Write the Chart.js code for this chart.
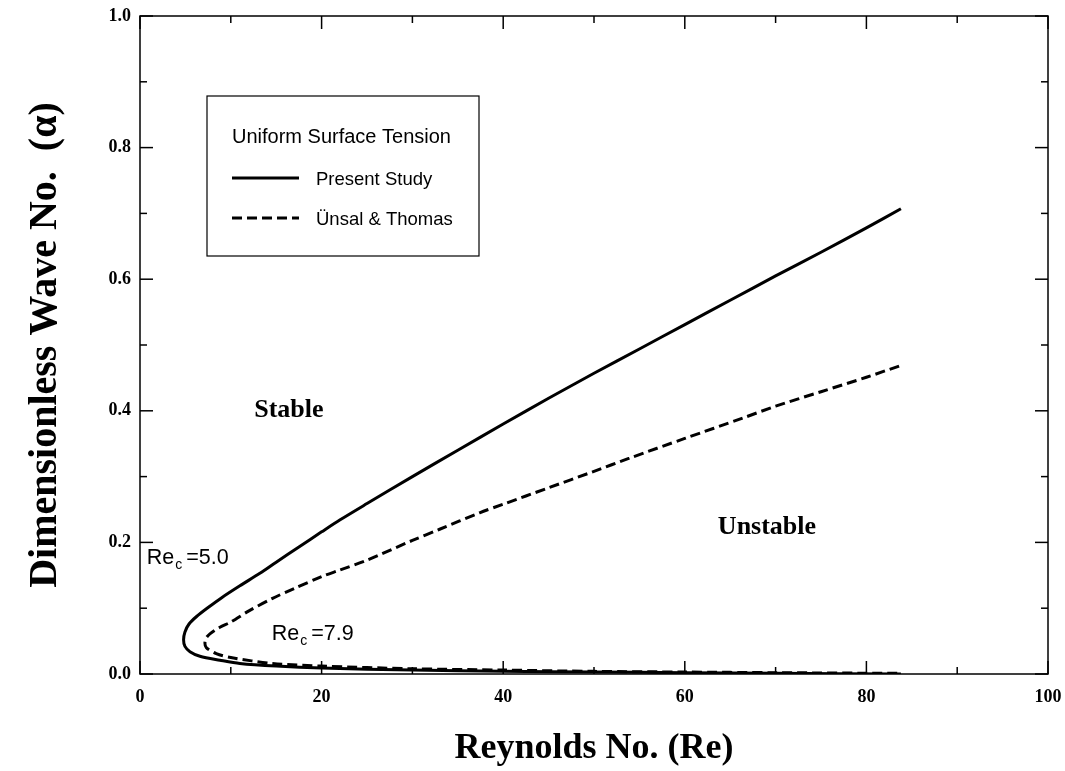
<!DOCTYPE html>
<html><head><meta charset="utf-8">
<script src="https://cdn.jsdelivr.net/npm/chart.js@4/dist/chart.umd.min.js"></script>
<style>html,body{margin:0;padding:0;background:#fff}canvas{display:block}</style>
</head><body>
<canvas id="c" width="1065" height="771"></canvas>
<script>
// ---- data ----
const seriesNames = ['Present Study', '\u00DCnsal & Thomas'];
const legendTitle = 'Uniform Surface Tension';
const presentRe    = [83.8, 80, 75, 70, 65, 60, 55, 50, 45, 40, 35, 30, 25, 22, 20, 17.5, 15, 13.2, 11, 9, 7.5, 6.2, 5.4, 4.95, 4.8, 4.95, 5.5, 6.6, 8.8, 11, 15, 20, 30, 40, 50, 60, 70, 83.8];
const presentAlpha = [0.707, 0.678, 0.641, 0.605, 0.568, 0.531, 0.494, 0.457, 0.419, 0.380, 0.340, 0.300, 0.259, 0.234, 0.216, 0.193, 0.170, 0.153, 0.134, 0.116, 0.101, 0.087, 0.076, 0.064, 0.052, 0.042, 0.034, 0.027, 0.021, 0.016, 0.012, 0.009, 0.006, 0.004, 0.003, 0.002, 0.001, 0.000];
const unsalRe    = [83.6, 80, 75, 70, 66.4, 60, 53.9, 50, 45, 40, 37.4, 33, 30, 25, 22, 20, 17, 14.6, 12, 10, 8.8, 7.7, 7.3, 7.15, 7.3, 8.4, 10, 14.6, 20, 30, 40, 50, 60, 70, 83.6];
const unsalAlpha = [0.468, 0.451, 0.429, 0.407, 0.389, 0.358, 0.328, 0.308, 0.283, 0.258, 0.245, 0.220, 0.203, 0.173, 0.158, 0.148, 0.130, 0.115, 0.096, 0.079, 0.071, 0.061, 0.055, 0.047, 0.040, 0.031, 0.025, 0.016, 0.012, 0.008, 0.006, 0.004, 0.003, 0.002, 0.001];
const xMajorTicks = [0, 20, 40, 60, 80, 100];
const xMinorTicks = [10, 30, 50, 70, 90];
const yMajorTicks = [0, 0.2, 0.4, 0.6, 0.8, 1.0];
const yMinorTicks = [0.1, 0.3, 0.5, 0.7, 0.9];
const xTitle = 'Reynolds No. (Re)';
const yTitle = 'Dimensionless Wave No.  (\u03B1)';
const regionLabels = [{text: 'Stable', x: 16.4, y: 0.401}, {text: 'Unstable', x: 69.05, y: 0.223}];
const criticalLabels = [{value: '5.0', x: 0.75, y: 0.167}, {value: '7.9', x: 14.5, y: 0.052}];

const SERIF = '"Liberation Serif", "Times New Roman", serif';
const SANS = '"Liberation Sans", Arial, sans-serif';

const toPts = (xs, ys) => xs.map((v, i) => ({x: v, y: ys[i]}));

const decorPlugin = {
  id: 'decor',
  afterDatasetsDraw(chart) {
    const {ctx, chartArea: a, scales: {x, y}} = chart;
    ctx.save();
    ctx.strokeStyle = '#000';
    ctx.lineWidth = 1.5;
    ctx.strokeRect(a.left, a.top, a.right - a.left, a.bottom - a.top);
    const seg = (x1, y1, x2, y2) => { ctx.beginPath(); ctx.moveTo(x1, y1); ctx.lineTo(x2, y2); ctx.stroke(); };
    xMajorTicks.forEach(v => { const p = x.getPixelForValue(v); seg(p, a.bottom, p, a.bottom - 13); seg(p, a.top, p, a.top + 13); });
    xMinorTicks.forEach(v => { const p = x.getPixelForValue(v); seg(p, a.bottom, p, a.bottom - 7); seg(p, a.top, p, a.top + 7); });
    yMajorTicks.forEach(v => { const p = y.getPixelForValue(v); seg(a.left, p, a.left + 13, p); seg(a.right, p, a.right - 13, p); });
    yMinorTicks.forEach(v => { const p = y.getPixelForValue(v); seg(a.left, p, a.left + 7, p); seg(a.right, p, a.right - 7, p); });

    // region labels
    ctx.fillStyle = '#000';
    ctx.font = 'bold 26px ' + SERIF;
    ctx.textAlign = 'center';
    ctx.textBaseline = 'middle';
    regionLabels.forEach(l => ctx.fillText(l.text, x.getPixelForValue(l.x), y.getPixelForValue(l.y)));

    // critical Reynolds labels
    ctx.textAlign = 'left';
    ctx.textBaseline = 'alphabetic';
    criticalLabels.forEach(l => {
      let px = x.getPixelForValue(l.x);
      const py = y.getPixelForValue(l.y);
      ctx.font = '21.5px ' + SANS;
      ctx.fillText('Re', px, py);
      px += ctx.measureText('Re').width;
      ctx.font = '14px ' + SANS;
      ctx.fillText('c', px + 1, py + 5);
      px += ctx.measureText('c').width + 5;
      ctx.font = '21.5px ' + SANS;
      ctx.fillText('=' + l.value, px, py);
    });

    // legend box
    const L = 207, T = 96, R = 479, B = 256;
    ctx.lineWidth = 1.2;
    ctx.strokeRect(L, T, R - L, B - T);
    ctx.font = '20px ' + SANS;
    ctx.fillText(legendTitle, 232, 143);
    ctx.font = '18.5px ' + SANS;
    const ds = chart.data.datasets;
    [178, 218].forEach((ly, i) => {
      ctx.lineWidth = ds[i].borderWidth;
      ctx.setLineDash(ds[i].borderDash || []);
      seg(232, ly, 299, ly);
      ctx.setLineDash([]);
      ctx.fillText(ds[i].label, 316, ly + 7);
    });
    ctx.restore();
  }
};

new Chart(document.getElementById('c'), {
  type: 'scatter',
  data: {
    datasets: [
      {label: seriesNames[0], data: toPts(presentRe, presentAlpha), showLine: true, borderColor: '#000', borderWidth: 3, pointRadius: 0, tension: 0.3, fill: false},
      {label: seriesNames[1], data: toPts(unsalRe, unsalAlpha), showLine: true, borderColor: '#000', borderWidth: 3, borderDash: [10, 5], pointRadius: 0, tension: 0.3, fill: false}
    ]
  },
  options: {
    responsive: false,
    animation: false,
    devicePixelRatio: 1,
    layout: {padding: {top: 16, right: 17, left: 0, bottom: 0}},
    plugins: {legend: {display: false}, tooltip: {enabled: false}},
    scales: {
      x: {
        type: 'linear', min: 0, max: 100,
        afterFit: s => { s.height = 97; s.paddingLeft = 0; s.paddingRight = 0; },
        afterBuildTicks: s => { s.ticks = xMajorTicks.map(v => ({value: v})); },
        grid: {display: false, drawTicks: false},
        border: {display: false},
        ticks: {padding: 13, color: '#000', font: {family: SERIF, size: 18, weight: 'bold'}, callback: v => String(v)},
        title: {display: true, text: xTitle, color: '#000', font: {family: SERIF, size: 36, weight: 'bold'}, padding: {top: 0, bottom: 1}}
      },
      y: {
        type: 'linear', min: 0, max: 1,
        afterFit: s => { s.width = 140; s.paddingTop = 0; s.paddingBottom = 0; },
        afterBuildTicks: s => { s.ticks = yMajorTicks.map(v => ({value: v})); },
        grid: {display: false, drawTicks: false},
        border: {display: false},
        ticks: {padding: 9, color: '#000', font: {family: SERIF, size: 18, weight: 'bold'}, callback: v => Number(v).toFixed(1)},
        title: {display: true, text: yTitle, color: '#000', font: {family: SERIF, size: 40, weight: 'bold'}, padding: {top: 22, bottom: 0}}
      }
    }
  },
  plugins: [decorPlugin]
});
</script>
</body></html>
